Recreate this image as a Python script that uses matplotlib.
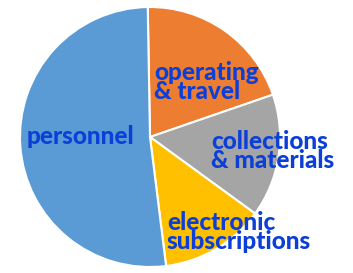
import matplotlib
matplotlib.use("Agg")
import matplotlib.pyplot as plt

categories = ["operating\n& travel", "collections\n& materials", "electronic\nsubscriptions", "personnel"]
values = [20, 15.3, 13, 51.7]
colors = ["#ED7D31", "#A5A5A5", "#FFC000", "#5B9BD5"]
label_pos = [(154, 273 - 82), (211, 273 - 151), (167, 273 - 232), (27, 273 - 137)]

W, H = 353, 273
fig = plt.figure(figsize=(W / 100, H / 100), dpi=100)
ax = fig.add_axes([0, 0, 1, 1])

ax.pie(values, colors=colors, startangle=91, counterclock=False,
       center=(150, 273 - 137), radius=130,
       wedgeprops=dict(edgecolor="white", linewidth=1.5), frame=True)
ax.set_xlim(0, W)
ax.set_ylim(0, H)
ax.set_aspect("equal")
ax.axis("off")

for lab, (x, y) in zip(categories, label_pos):
    ax.text(x, y, lab, ha="left", va="center", color="#0B3FD8",
            fontsize=17.5, fontweight="black", family="Lato", linespacing=0.83)

fig.savefig("out.png", dpi=100)
